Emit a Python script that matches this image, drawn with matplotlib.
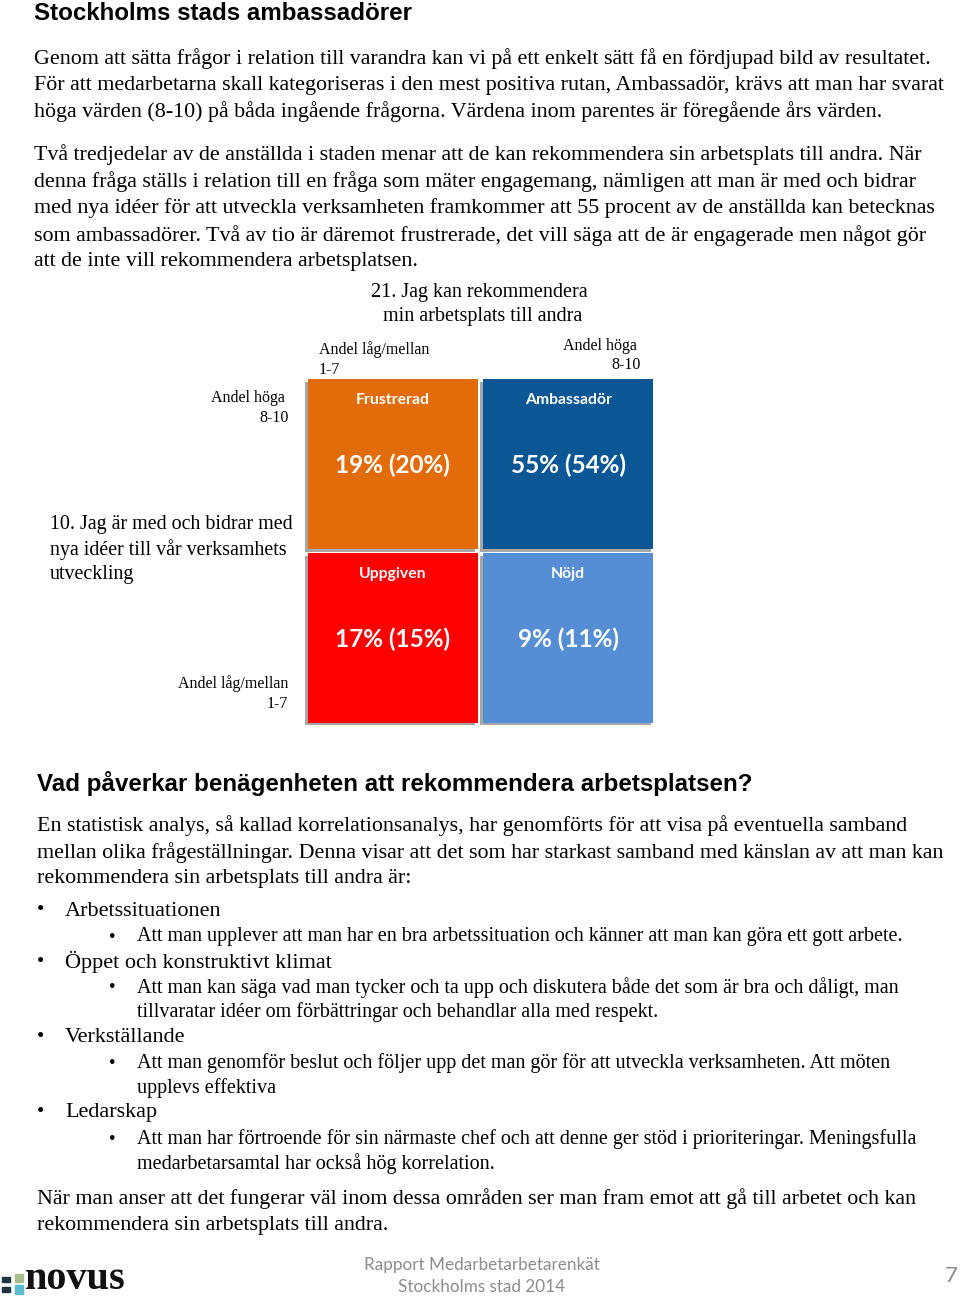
import matplotlib
matplotlib.use('Agg')
import matplotlib.pyplot as plt
import matplotlib.patheffects as pe

# quadrant data
categories = ['Frustrerad', 'Ambassadör', 'Uppgiven', 'Nöjd']
current = [19, 55, 17, 9]
previous = [20, 54, 15, 11]
col = [0, 1, 0, 1]
row = [1, 1, 0, 0]
colors = ['#E36C0A', '#0B5796', '#FF0000', '#558ED5']

title = 'Stockholms stads ambassadörer'
para1 = ['Genom att sätta frågor i relation till varandra kan vi på ett enkelt sätt få en fördjupad bild av resultatet.',
         'För att medarbetarna skall kategoriseras i den mest positiva rutan, Ambassadör, krävs att man har svarat',
         'höga värden (8-10) på båda ingående frågorna. Värdena inom parentes är föregående års värden.']
para2 = ['Två tredjedelar av de anställda i staden menar att de kan rekommendera sin arbetsplats till andra. När',
         'denna fråga ställs i relation till en fråga som mäter engagemang, nämligen att man är med och bidrar',
         'med nya idéer för att utveckla verksamheten framkommer att 55 procent av de anställda kan betecknas',
         'som ambassadörer. Två av tio är däremot frustrerade, det vill säga att de är engagerade men något gör',
         'att de inte vill rekommendera arbetsplatsen.']
xq = ['21. Jag kan rekommendera', 'min arbetsplats till andra']
yq = ['10. Jag är med och bidrar med', 'nya idéer till vår verksamhets', 'utveckling']
heading2 = 'Vad påverkar benägenheten att rekommendera arbetsplatsen?'
para3 = ['En statistisk analys, så kallad korrelationsanalys, har genomförts för att visa på eventuella samband',
         'mellan olika frågeställningar. Denna visar att det som har starkast samband med känslan av att man kan',
         'rekommendera sin arbetsplats till andra är:']
bullets = [('Arbetssituationen',
            ['Att man upplever att man har en bra arbetssituation och känner att man kan göra ett gott arbete.']),
           ('Öppet och konstruktivt klimat',
            ['Att man kan säga vad man tycker och ta upp och diskutera både det som är bra och dåligt, man',
             'tillvaratar idéer om förbättringar och behandlar alla med respekt.']),
           ('Verkställande',
            ['Att man genomför beslut och följer upp det man gör för att utveckla verksamheten. Att möten',
             'upplevs effektiva']),
           ('Ledarskap',
            ['Att man har förtroende för sin närmaste chef och att denne ger stöd i prioriteringar. Meningsfulla',
             'medarbetarsamtal har också hög korrelation.'])]
para4 = ['När man anser att det fungerar väl inom dessa områden ser man fram emot att gå till arbetet och kan',
         'rekommendera sin arbetsplats till andra.']
footer = ['Rapport Medarbetarbetarenkät', 'Stockholms stad 2014']

W, H = 960, 1300
fig = plt.figure(figsize=(9.6, 13), dpi=100)
page = fig.add_axes([0, 0, 1, 1])
page.set_xlim(0, W)
page.set_ylim(H, 0)
page.axis('off')

serif = 'Liberation Serif'
sans = 'Liberation Sans'
cal = 'Lato'
fs = 15.8

page.text(34, 13, title, fontsize=17.4, fontweight='bold', family=sans, va='center')
for i, s in enumerate(para1):
  page.text(34, 59 + i*26.2, s, fontsize=fs, family=serif, va='center')
for i, s in enumerate(para2):
  page.text(34, 155 + i*26.7, s, fontsize=fs, family=serif, va='center')

# axis titles / labels around quadrant
page.text(479, 292, xq[0], fontsize=14.5, family=serif, va='center', ha='center')
page.text(483, 317, xq[1], fontsize=14.5, family=serif, va='center', ha='center')
page.text(319, 350, 'Andel låg/mellan', fontsize=11.5, family=serif, va='center')
page.text(319, 370, '1-7', fontsize=11.5, family=serif, va='center')
page.text(637, 346, 'Andel höga', fontsize=11.5, family=serif, va='center', ha='right')
page.text(641, 365, '8-10', fontsize=11.5, family=serif, va='center', ha='right')
page.text(285, 398, 'Andel höga', fontsize=11.5, family=serif, va='center', ha='right')
page.text(289, 418, '8-10', fontsize=11.5, family=serif, va='center', ha='right')
for i, s in enumerate(yq):
  page.text(50, 525 + i*24.5, s, fontsize=14.4, family=serif, va='center')
page.text(288, 684, 'Andel låg/mellan', fontsize=11.5, family=serif, va='center', ha='right')
page.text(288, 704, '1-7', fontsize=11.5, family=serif, va='center', ha='right')

# quadrant
q = fig.add_axes([305/W, 1 - 725/H, 351/W, 348/H])
q.set_xlim(0, 2)
q.set_ylim(0, 2)
q.axis('off')
shadow = [pe.SimplePatchShadow(offset=(-2, -2), shadow_rgbFace='#808080', alpha=0.7), pe.Normal()]
for i in range(len(categories)):
  b = q.bar(col[i] + 0.5, 0.977, width=0.97, bottom=row[i] + 0.012, color=colors[i])
  b[0].set_path_effects(shadow)
  q.text(col[i] + 0.5, row[i] + 0.87, categories[i], color='white', fontsize=11.3,
         fontweight='bold', family=cal, ha='center', va='center')
  q.text(col[i] + 0.5, row[i] + 0.495, '{:d}% ({:d}%)'.format(current[i], previous[i]),
         color='white', fontsize=17.5, fontweight='bold', family=cal, ha='center', va='center')

page.text(37, 783, heading2, fontsize=17.4, fontweight='bold', family=sans, va='center')
for i, s in enumerate(para3):
  page.text(37, 826 + i*26.5, s, fontsize=fs, family=serif, va='center')
y = 911
for head, subs in bullets:
  page.text(37, y, '•', fontsize=15, family=serif, va='center')
  page.text(65, y, head, fontsize=16, family=serif, va='center')
  y += 26
  for j, s in enumerate(subs):
    if j == 0:
      page.text(109, y, '•', fontsize=13.5, family=serif, va='center')
    page.text(137, y, s, fontsize=14.5, family=serif, va='center')
    y += 24.5
  y += 0.5
for i, s in enumerate(para4):
  page.text(37, 1199 + i*26.5, s, fontsize=fs, family=serif, va='center')

# footer
page.text(482, 1265, footer[0], fontsize=12.3, family=cal, color='#8C8C8C', va='center', ha='center')
page.text(482, 1287, footer[1], fontsize=12.3, family=cal, color='#8C8C8C', va='center', ha='center')
page.text(951, 1276, '7', fontsize=16, family=cal, color='#8C8C8C', va='center', ha='center')
# logo
sq = [(2, 1277, 8, 5, '#1E3340'), (15, 1274, 8, 8, '#A9BC8E'),
      (2, 1287, 8, 5, '#1E3340'), (15, 1285, 8, 9, '#5BBCD0')]
for x0, y0, w, h, c in sq:
  page.add_patch(plt.Rectangle((x0, y0), w, h, color=c))
page.text(25, 1298, 'novus', fontsize=29, family=serif, fontweight='bold', va='bottom', color='#111111')

fig.savefig('out.png', dpi=100)
